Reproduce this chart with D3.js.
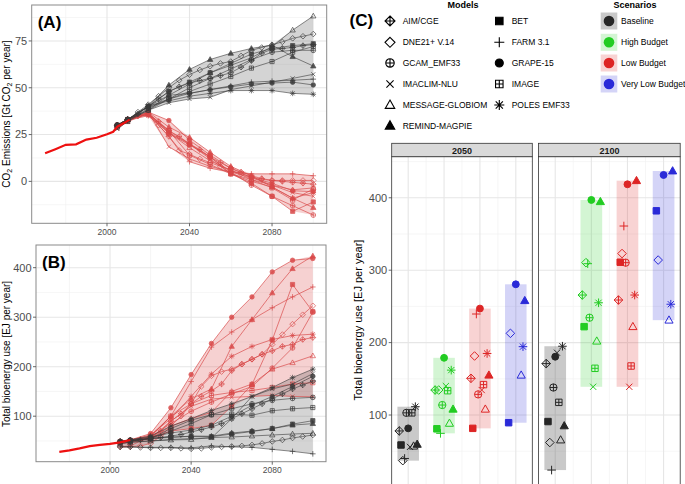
<!DOCTYPE html>
<html><head><meta charset="utf-8">
<script src="https://cdn.jsdelivr.net/npm/d3@7"></script>
<style>body{margin:0;background:#fff} svg{display:block;font-family:"Liberation Sans",Arial,Helvetica,sans-serif}</style>
</head><body><svg id="c" width="685" height="484"></svg>
<script>
// ---------------- DATA ----------------
const models = ["AIM/CGE","BET","DNE21+ V.14","FARM 3.1","GCAM_EMF33","GRAPE-15","IMACLIM-NLU","IMAGE","MESSAGE-GLOBIOM","POLES EMF33","REMIND-MAGPIE"];
const shapes = ["diamondPlus","square","diamond","plus","circlePlus","circle","cross","squarePlus","triangleOpen","asterisk","triangle"];
const years10 = [2005,2010,2020,2030,2040,2050,2060,2070,2080,2090,2100];
const years5 = [2005,2010,2015,2020,2025,2030,2035,2040,2045,2050,2055,2060,2065,2070,2075,2080,2085,2090,2095,2100];
// which year grid each model reports on (5-year or 10-year steps)
const modelStep = [5,10,5,10,10,10,10,10,10,10,10];

const xTicksAB = [2000,2040,2080];
const yTicksA = [0,25,50,75];
const yTicksB = [100,200,300,400];
const yTicksC = [100,200,300,400];

// historical series
const histCO2Years = [1970,1975,1980,1985,1990,1995,2000,2003,2005,2008,2011];
const histCO2 = [15.0,17.2,19.5,19.8,22.3,23.3,25.2,26.5,29.2,31.0,33.0];
const histBioYears = [1975,1980,1985,1990,1995,2000,2005,2010];
const histBio = [28,31,35,39.5,42,44,47,52];

// CO2 emissions, Baseline (grey)
const co2Baseline = [
 [30,33,36,40,44,48,50.5,52.5,53.8,55,56.5,58,61,64.5,68.5,70.5,71,71.5,72.5,73],
 [30,33,40,48,53,58,63,68,71,72.5,73.5],
 [30,33,37,41,45.5,50,54,57,59.5,61.5,63,64,67,70,71.5,73,74.5,76.4,77.5,78.7],
 [30,33,40,44,47,49,51,53,53.5,54,54.6],
 [30,33,38,44,50,55,60,65,69,70,70],
 [30,33,40,46,47,49,50.5,52,52.5,53,51.5],
 [28,32,38,42,44,44.9,49,51,53,55,57.2],
 [29,32,39,44,48,52,56,60.5,64,69,72],
 [30,33,38,46,52,58,62,66,72,80.8,88.3],
 [30,33,40,43,45.5,47,48.5,48.5,48.5,47,46.5],
 [30,33,40,51.4,59.8,65.1,68.4,71,72.8,66.6,61.6]
];
// CO2 emissions, Low Budget (red)
const co2Low = [
 [30,33,35,36,32,27,24,20,17,13,10,7,5,3,1.5,0.5,0,-0.5,-1,-1.5],
 [30,33,37,25.5,19.5,13,4,-1,-8,-16,-11],
 [30,33,35,35.5,30,24,16.5,14.5,12,10,8,6,4,2.5,1,0.5,0.5,0.5,0.5,0.5],
 [30,33,36,24,10.5,7,5,4,4,4,3],
 [30,33,36,27,20,13,5,-2,-8,-13,-18],
 [30,33,37,32.5,22,14,7,2,-1,-5,-5.5],
 [28,32,37,18.5,12,8,5,2,-2,-6,-8],
 [29,32,36,27,14,9,4,1,-3.5,-10,-4],
 [30,33,36,26,18,11,6,1,-2,-4.5,-3.5],
 [30,33,35,26,20,12,4,0,-3,-9,-6],
 [30,33,37,29,23.5,15.5,8,3,-3,-9,-14]
];
// Total bioenergy, Baseline (grey)
const bioBaseline = [
 [48,50,52,55,57,60,63,68,73,78,85,95,105,115,125,135,145,155,163,171],
 [48,50,55,58,59,58.6,64,69,75,84,91],
 [38,38,37,36,36,36,35,34,35,37,38,39,40,42,45,49,52,56,59,62],
 [38,38,37,37,36,40,38,37,33,29,24],
 [48,50,55,75,92,103,115,125,132,136,138],
 [48,52,58,66,72,81.6,100,122,140,160,180.5],
 [45,48,50,53,55,56,95,140,155,165,186],
 [48,50,55,70,85,103,104,102,111,115,117.5],
 [45,47,50,52,53,57,58,60,62,64,65.5],
 [48,52,60,80,95,111.5,125,140,158,178,195],
 [50,52,55,57,60,59.5,66,70,75,82,85]
];
// Total bioenergy, Low Budget (red)
const bioLow = [
 [48,50,53,57,70,90,105,125,140,150.7,165,192,205,215,225,232,241,245,255,258.8],
 [48,50,55,70,75,81.6,120,164,254,366,311],
 [38,38,40,45,60,80,100,125,160,181.5,190,195,205,215,225,245,265,286,305,323],
 [38,40,60,100,170,239.5,270,295,319,341,361],
 [48,50,58,85,110,128.5,145,160,197,238,310.4],
 [48,52,65,117,184,247,300,341,391.5,415,418.6],
 [45,48,55,90,120,134.5,138,140,142,140,139],
 [48,50,58,100,125,142,148,152,158,165,167.7],
 [45,47,55,80,95,108,150,165,195,208,222],
 [48,52,62,95,140,185,221,241,255,263,265.7],
 [50,52,60,100,135,155,241,295,349,398,423.6]
];
// Panel C: High Budget and Very Low Budget (2050, 2100), by model (null = not reported)
const highBudget2050 = [134.5,81,134.5,74.7,113.8,179,140,133.6,88.5,162,108];
const highBudget2100 = [265.7,222,310.4,309,234.4,397,139,164.5,202,255,394.6];
const veryLow2050 = [null,89.4,212.8,null,null,280.5,null,null,155,194.4,257.9];
const veryLow2100 = [null,382,314,null,null,431.5,null,null,231,253,437];

const scenarios = ["Baseline","High Budget","Low Budget","Very Low Budget"];
const scenColors = ["#262626","#22cc22","#dd2525","#2a2ad8"];
const facetYears = [2050,2100];

// ---------------- HELPERS ----------------
const svg = d3.select("#c");
const FONT = '"Liberation Sans",Arial,Helvetica,sans-serif';

function symPath(shape, s){
  const a = s*0.72;
  const circ = r => `M${-r},0A${r},${r} 0 1,0 ${r},0A${r},${r} 0 1,0 ${-r},0Z`;
  switch(shape){
    case "diamondPlus": return {d:`M0,${-s}L${s},0L0,${s}L${-s},0Z M0,${-s}V${s} M${-s},0H${s}`, fill:false};
    case "diamond": return {d:`M0,${-s}L${s},0L0,${s}L${-s},0Z`, fill:false};
    case "circlePlus": { const r=s*0.85; return {d:circ(r)+` M0,${-r}V${r} M${-r},0H${r}`, fill:false}; }
    case "cross": return {d:`M${-a},${-a}L${a},${a} M${-a},${a}L${a},${-a}`, fill:false};
    case "triangleOpen": return {d:`M0,${-s}L${s*0.95},${s*0.68}L${-s*0.95},${s*0.68}Z`, fill:false};
    case "triangle": return {d:`M0,${-s}L${s*0.95},${s*0.68}L${-s*0.95},${s*0.68}Z`, fill:true};
    case "square": { const h=s*0.75; return {d:`M${-h},${-h}H${h}V${h}H${-h}Z`, fill:true}; }
    case "plus": return {d:`M${-s},0H${s} M0,${-s}V${s}`, fill:false};
    case "circle": return {d:circ(s*0.8), fill:true};
    case "squarePlus": { const h=s*0.75; return {d:`M${-h},${-h}H${h}V${h}H${-h}Z M0,${-h}V${h} M${-h},0H${h}`, fill:false}; }
    case "asterisk": return {d:`M${-s},0H${s} M0,${-s}V${s} M${-a},${-a}L${a},${a} M${-a},${a}L${a},${-a}`, fill:false};
  }
}
function drawSym(g, shape, x, y, s, color, sw, op){
  const p = symPath(shape, s);
  g.append("path").attr("d", p.d).attr("transform", `translate(${x},${y})`)
    .attr("fill", p.fill ? color : "none").attr("stroke", color)
    .attr("stroke-width", sw).attr("opacity", op==null?1:op);
}
function seriesPoints(arr, mi){
  const yrs = modelStep[mi]===5 ? years5 : years10;
  return yrs.map((y,i)=>({year:y, v:arr[i]}));
}
function valueAt(arr, mi, year){
  const yrs = modelStep[mi]===5 ? years5 : years10;
  const i = yrs.indexOf(year); return i<0?null:arr[i];
}

// ---------------- PANELS A & B ----------------
function linePanel(cfg){
  const {x0,x1,y0,y1,yDom,yTicks,base,low,hYears,hVals,tag,title,clipId} = cfg;
  const x = d3.scaleLinear([1963.5,2106.5],[x0,x1]);
  const y = d3.scaleLinear(yDom,[y1,y0]);
  const g = svg.append("g");
  g.append("rect").attr("x",x0).attr("y",y0).attr("width",x1-x0).attr("height",y1-y0).attr("fill","#fff");
  const step = yTicks[1]-yTicks[0];
  // minor grid
  const minorY = d3.range(yTicks[0]-step/2, yDom[1], step).filter(v=>v>yDom[0]);
  minorY.forEach(v=>g.append("line").attr("x1",x0).attr("x2",x1).attr("y1",y(v)).attr("y2",y(v)).attr("stroke","#f0f0f0").attr("stroke-width",0.6));
  [1980,2020,2060,2100].forEach(v=>g.append("line").attr("y1",y0).attr("y2",y1).attr("x1",x(v)).attr("x2",x(v)).attr("stroke","#f0f0f0").attr("stroke-width",0.6));
  yTicks.forEach(v=>g.append("line").attr("x1",x0).attr("x2",x1).attr("y1",y(v)).attr("y2",y(v)).attr("stroke","#e6e6e6").attr("stroke-width",1.1));
  xTicksAB.forEach(v=>g.append("line").attr("y1",y0).attr("y2",y1).attr("x1",x(v)).attr("x2",x(v)).attr("stroke","#e6e6e6").attr("stroke-width",1.1));

  svg.append("clipPath").attr("id",clipId).append("rect").attr("x",x0).attr("y",y0).attr("width",x1-x0).attr("height",y1-y0);
  const pg = g.append("g").attr("clip-path",`url(#${clipId})`);

  function envelope(data){
    return years10.map(yr=>{
      const vals = data.map((arr,mi)=>valueAt(arr,mi,yr)).filter(v=>v!=null);
      return {year:yr, lo:d3.min(vals), hi:d3.max(vals)};
    });
  }
  const area = d3.area().x(d=>x(d.year)).y0(d=>y(d.lo)).y1(d=>y(d.hi));
  pg.append("path").attr("d",area(envelope(low))).attr("fill","#e05a5a").attr("fill-opacity",0.28);
  pg.append("path").attr("d",area(envelope(base))).attr("fill","#4a4a4a").attr("fill-opacity",0.24);

  const line = d3.line().x(d=>x(d.year)).y(d=>y(d.v));
  low.forEach((arr,mi)=>{
    const pts = seriesPoints(arr,mi);
    pg.append("path").attr("d",line(pts)).attr("fill","none").attr("stroke","#d94848").attr("stroke-width",0.8).attr("opacity",0.85);
    pts.forEach(p=>drawSym(pg, shapes[mi], x(p.year), y(p.v), 2.8, "#d94848", 0.8, 0.85));
  });
  base.forEach((arr,mi)=>{
    const pts = seriesPoints(arr,mi);
    pg.append("path").attr("d",line(pts)).attr("fill","none").attr("stroke","#3a3a3a").attr("stroke-width",0.7).attr("opacity",0.85);
    pts.forEach(p=>drawSym(pg, shapes[mi], x(p.year), y(p.v), 2.8, "#3a3a3a", 0.8, 0.85));
  });
  pg.append("path").attr("d",d3.line().x((d,i)=>x(hYears[i])).y(d=>y(d))(hVals))
    .attr("fill","none").attr("stroke","#ee1010").attr("stroke-width",2.2);

  g.append("rect").attr("x",x0).attr("y",y0).attr("width",x1-x0).attr("height",y1-y0).attr("fill","none").attr("stroke","#8a8a8a").attr("stroke-width",1);
  // ticks
  yTicks.forEach(v=>{
    g.append("line").attr("x1",x0-3).attr("x2",x0).attr("y1",y(v)).attr("y2",y(v)).attr("stroke","#444").attr("stroke-width",0.8);
    g.append("text").attr("x",x0-4.5).attr("y",y(v)).attr("dy","0.35em").attr("text-anchor","end")
      .attr("font-size",11).attr("fill","#4d4d4d").text(v);
  });
  xTicksAB.forEach(v=>{
    g.append("line").attr("y1",y1).attr("y2",y1+3).attr("x1",x(v)).attr("x2",x(v)).attr("stroke","#444").attr("stroke-width",0.8);
    g.append("text").attr("x",x(v)).attr("y",y1+11.5).attr("text-anchor","middle")
      .attr("font-size",8.5).attr("fill","#4d4d4d").text(v);
  });
  g.append("text").attr("x",x0+6).attr("y",y0+22.5).attr("font-size",17).attr("font-weight","bold").attr("fill","#000").text(tag);
  return g;
}

linePanel({x0:31.7,x1:326.7,y0:5,y1:223.3,yDom:[-22.4,94.2],yTicks:yTicksA,base:co2Baseline,low:co2Low,
  hYears:histCO2Years,hVals:histCO2,tag:"(A)",clipId:"clipA"});
linePanel({x0:36,x1:326,y0:245,y1:461.7,yDom:[8.1,445.8],yTicks:yTicksB,base:bioBaseline,low:bioLow,
  hYears:histBioYears,hVals:histBio,tag:"(B)",clipId:"clipB"});

// Y titles A & B
const tA = svg.append("text").attr("transform","translate(9.5,114) rotate(-90)").attr("text-anchor","middle").attr("font-size",10).attr("fill","#000");
tA.append("tspan").text("CO");
tA.append("tspan").attr("font-size",7).attr("dy",2.5).text("2");
tA.append("tspan").attr("dy",-2.5).text(" Emissions [Gt CO");
tA.append("tspan").attr("font-size",7).attr("dy",2.5).text("2");
tA.append("tspan").attr("dy",-2.5).text(" per year]");
svg.append("text").attr("transform","translate(9.5,354) rotate(-90)").attr("text-anchor","middle").attr("font-size",10).attr("fill","#000")
  .text("Total bioenergy use [EJ per year]");

// ---------------- PANEL C ----------------
const yC = d3.scaleLinear([1.3,457],[486.5,156.5]);
const facetX = [[391.7,532.3],[538.6,680.2]];
const cg = svg.append("g");
facetYears.forEach((fy,fi)=>{
  const [px0,px1] = facetX[fi];
  const xC = d3.scaleLinear([0.54,4.46],[px0,px1]);
  const g = cg.append("g");
  g.append("rect").attr("x",px0).attr("y",156.7).attr("width",px1-px0).attr("height",340).attr("fill","#fff");
  [50,150,250,350,450].forEach(v=>g.append("line").attr("x1",px0).attr("x2",px1).attr("y1",yC(v)).attr("y2",yC(v)).attr("stroke","#f0f0f0").attr("stroke-width",0.6));
  [1.5,2.5,3.5].forEach(v=>g.append("line").attr("y1",156.7).attr("y2",490).attr("x1",xC(v)).attr("x2",xC(v)).attr("stroke","#f0f0f0").attr("stroke-width",0.6));
  yTicksC.forEach(v=>g.append("line").attr("x1",px0).attr("x2",px1).attr("y1",yC(v)).attr("y2",yC(v)).attr("stroke","#e6e6e6").attr("stroke-width",1.1));
  [1,2,3,4].forEach(v=>g.append("line").attr("y1",156.7).attr("y2",490).attr("x1",xC(v)).attr("x2",xC(v)).attr("stroke","#e6e6e6").attr("stroke-width",1.1));

  const vals = [
    models.map((m,mi)=>valueAt(bioBaseline[mi],mi,fy)),
    fi===0?highBudget2050:highBudget2100,
    models.map((m,mi)=>valueAt(bioLow[mi],mi,fy)),
    fi===0?veryLow2050:veryLow2100
  ];
  vals.forEach((arr,si)=>{
    const v = arr.filter(d=>d!=null);
    const lo=d3.min(v), hi=d3.max(v);
    g.append("rect").attr("x",xC(si+1-0.3)).attr("width",xC(si+1.3)-xC(si+0.7))
      .attr("y",yC(hi)).attr("height",yC(lo)-yC(hi)).attr("fill",scenColors[si]).attr("fill-opacity",si===0?0.25:0.2);
  });
  vals.forEach((arr,si)=>{
    arr.forEach((v,mi)=>{
      if(v==null) return;
      drawSym(g, shapes[mi], xC(si+1+(mi-5)*0.05), yC(v), 4.3, scenColors[si], 1, 1);
    });
  });
  g.append("rect").attr("x",px0).attr("y",156.7).attr("width",px1-px0).attr("height",340).attr("fill","none").attr("stroke","#333").attr("stroke-width",0.8);
  g.append("rect").attr("x",px0).attr("y",143.3).attr("width",px1-px0).attr("height",13.4).attr("fill","#d9d9d9").attr("stroke","#333").attr("stroke-width",0.8);
  g.append("text").attr("x",(px0+px1)/2).attr("y",153.5).attr("text-anchor","middle").attr("font-size",9).attr("font-weight","bold").attr("fill","#1a1a1a").text(fy);
  if(fi===0){
    yTicksC.forEach(v=>{
      g.append("line").attr("x1",px0-3).attr("x2",px0).attr("y1",yC(v)).attr("y2",yC(v)).attr("stroke","#444").attr("stroke-width",0.8);
      g.append("text").attr("x",px0-4.5).attr("y",yC(v)).attr("dy","0.35em").attr("text-anchor","end").attr("font-size",11).attr("fill","#4d4d4d").text(v);
    });
  }
});
svg.append("text").attr("transform","translate(362,320) rotate(-90)").attr("text-anchor","middle").attr("font-size",11).attr("fill","#000")
  .text("Total bioenergy use [EJ per year]");

// ---------------- LEGEND ----------------
svg.append("text").attr("x",349.5).attr("y",26).attr("font-size",17).attr("font-weight","bold").text("(C)");
svg.append("text").attr("x",463).attr("y",7.5).attr("text-anchor","middle").attr("font-size",9).attr("font-weight","bold").text("Models");
svg.append("text").attr("x",635).attr("y",7.5).attr("text-anchor","middle").attr("font-size",9).attr("font-weight","bold").text("Scenarios");
const rowY = [21,42.3,63,84,105,125.7];
models.forEach((m,mi)=>{
  const col = mi%2, row = Math.floor(mi/2);
  const sx = col===0?390:499.3, lx = col===0?402.7:511.7;
  drawSym(svg, shapes[mi], sx, rowY[row], 5, "#000", 1.1, 1);
  svg.append("text").attr("x",lx).attr("y",rowY[row]).attr("dy","0.36em").attr("font-size",8.5).attr("fill","#000").text(m);
});
scenarios.forEach((s,si)=>{
  const cy = rowY[si];
  svg.append("rect").attr("x",600.7).attr("y",cy-8.5).attr("width",16.6).attr("height",17).attr("fill",scenColors[si]).attr("fill-opacity",si===0?0.25:0.2);
  svg.append("circle").attr("cx",609).attr("cy",cy).attr("r",5.3).attr("fill",scenColors[si]);
  svg.append("text").attr("x",621).attr("y",cy).attr("dy","0.36em").attr("font-size",8.5).attr("fill","#000").text(s);
});
</script>
</body></html>
